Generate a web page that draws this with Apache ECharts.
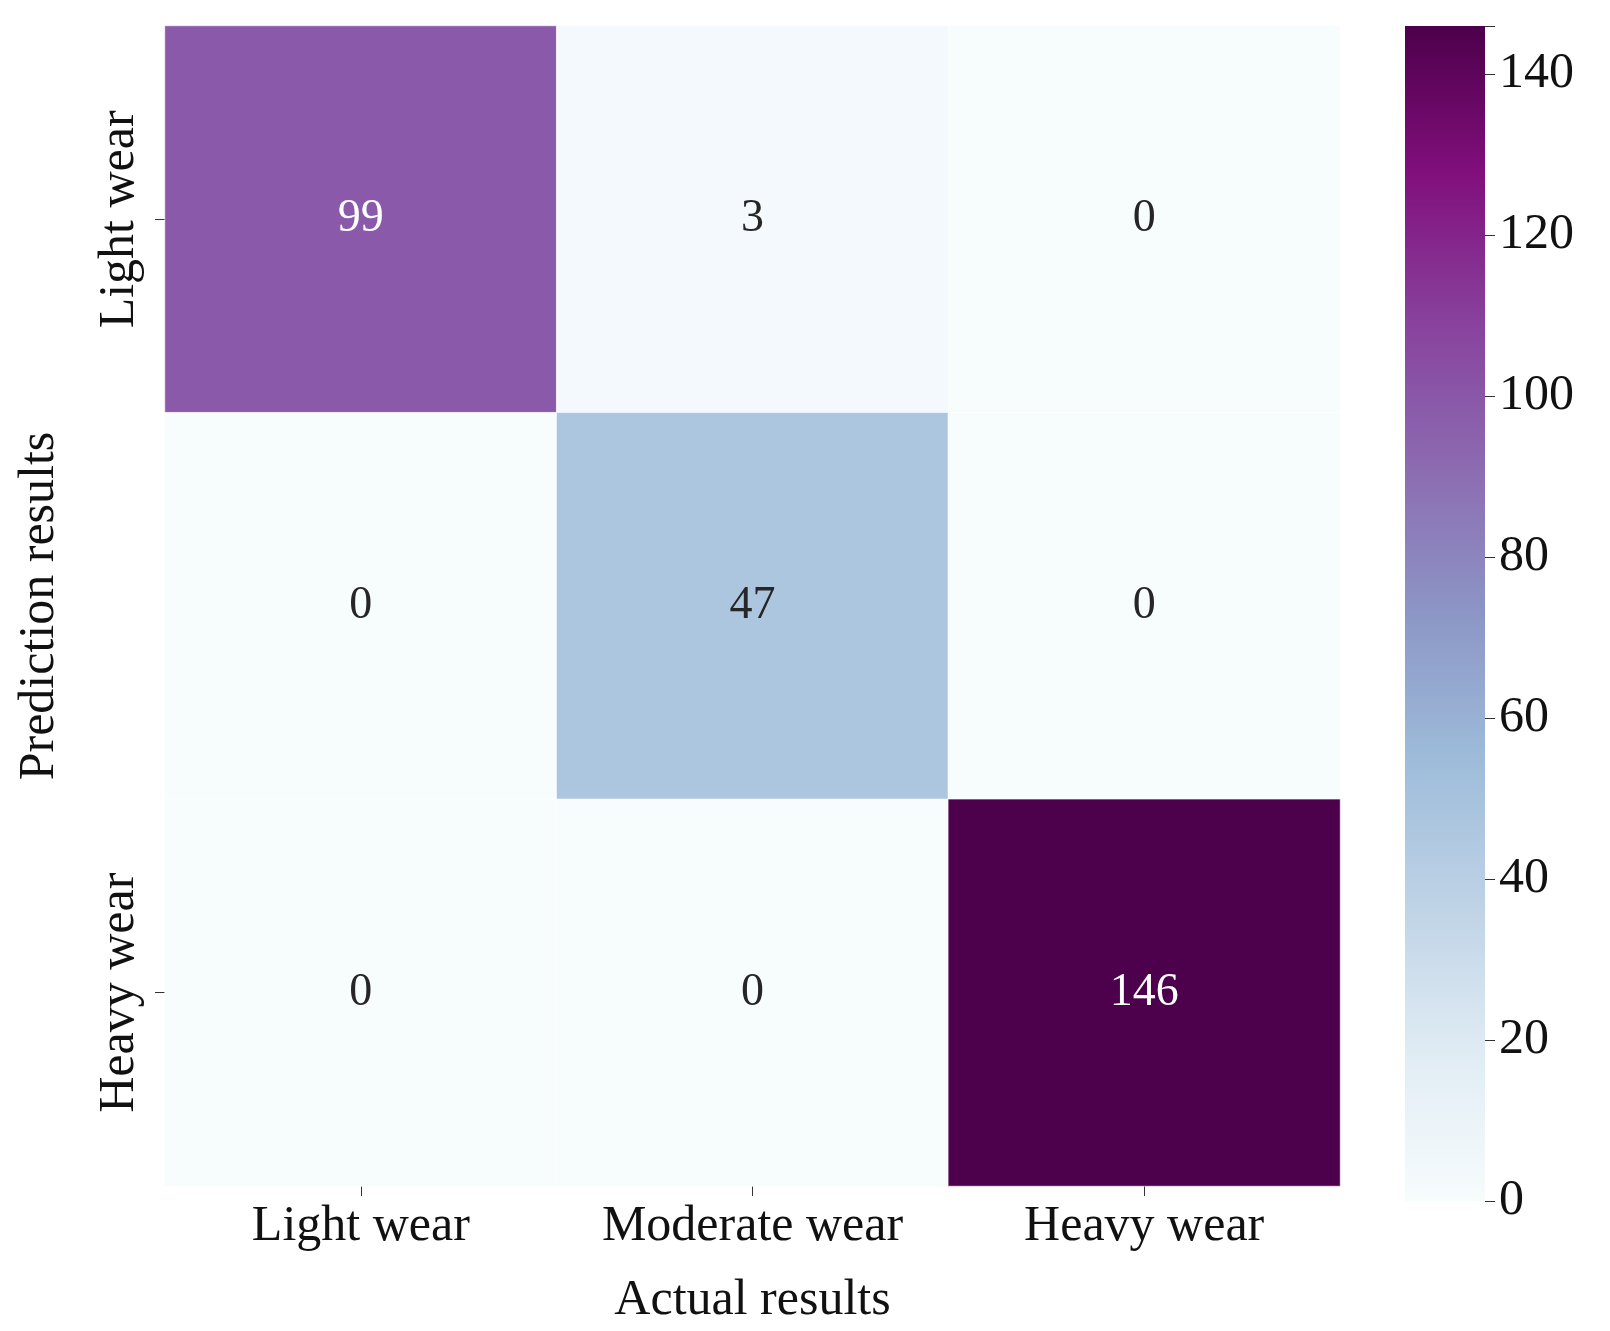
<!DOCTYPE html>
<html><head><meta charset="utf-8">
<script src="https://cdn.jsdelivr.net/npm/echarts@6/dist/echarts.min.js"></script>
<style>html,body{margin:0;background:#fff}#c{width:1610px;height:1331px}</style>
</head><body><div id="c"></div>
<script>
const categories = ['Light wear','Moderate wear','Heavy wear'];
// rows: prediction, cols: actual
const matrix = [[99,3,0],[0,47,0],[0,0,146]];
const colorTicks = [0,20,40,60,80,100,120,140];
const vmin = 0, vmax = 146;
const bupu = ['#f7fcfd','#e0ecf4','#bfd3e6','#9ebcda','#8c96c6','#8c6bb1','#88419d','#810f7c','#4d004b'];

const data = [];
matrix.forEach((row,r)=>row.forEach((v,c)=>data.push([c,r,v])));
const font = 'Liberation Serif, Times New Roman, serif';
const chart = echarts.init(document.getElementById('c'));
chart.setOption({
  animation:false,
  grid:[
    {left:165,top:26,width:1175,height:1175},
    {left:1405,top:26,width:80,height:1175,show:true,borderWidth:0,
     backgroundColor:new echarts.graphic.LinearGradient(0,1,0,0,bupu.map((c,i)=>({offset:i/(bupu.length-1),color:c})))}
  ],
  xAxis:[
    {type:'category',data:categories,gridIndex:0,position:'bottom',
     axisLine:{show:false},axisTick:{show:true,alignWithLabel:true,length:10,lineStyle:{color:'#333'}},
     axisLabel:{fontFamily:font,fontSize:50,color:'#111',margin:16},
     name:'Actual results',nameLocation:'middle',nameGap:90,nameTextStyle:{fontFamily:font,fontSize:50,color:'#111'},
     splitLine:{show:false}},
    {type:'category',data:[''],gridIndex:1,show:false}
  ],
  yAxis:[
    {type:'category',data:categories,gridIndex:0,inverse:true,
     axisLine:{show:false},axisTick:{show:true,alignWithLabel:true,length:10,lineStyle:{color:'#333'}},
     axisLabel:{fontFamily:font,fontSize:50,color:'#111',rotate:90,margin:20},
     name:'Prediction results',nameLocation:'middle',nameGap:100,nameRotate:90,nameTextStyle:{fontFamily:font,fontSize:50,color:'#111'}},
    {type:'value',gridIndex:1,min:vmin,max:vmax,interval:20,position:'right',
     axisLine:{show:false},axisTick:{show:true,length:10,lineStyle:{color:'#333'}},
     axisLabel:{fontFamily:font,fontSize:50,color:'#111',margin:14,formatter:v=>colorTicks.includes(v)?String(v):''},
     splitLine:{show:false}}
  ],
  visualMap:{show:false,min:vmin,max:vmax,seriesIndex:0,inRange:{color:bupu}},
  series:[{
    type:'heatmap',xAxisIndex:0,yAxisIndex:0,data:data,
    itemStyle:{borderColor:'rgba(255,255,255,0.6)',borderWidth:1},
    label:{show:true,fontFamily:font,fontSize:46,
      formatter:p=>String(p.value[2]),
      color:'#222',
      rich:{}},
    emphasis:{disabled:true}
  }]
});
// label color per cell: white on dark
chart.setOption({series:[{data:data.map(d=>({value:d,label:{color:d[2]>90?'#fff':'#262626'}}))}]});
</script></body></html>
